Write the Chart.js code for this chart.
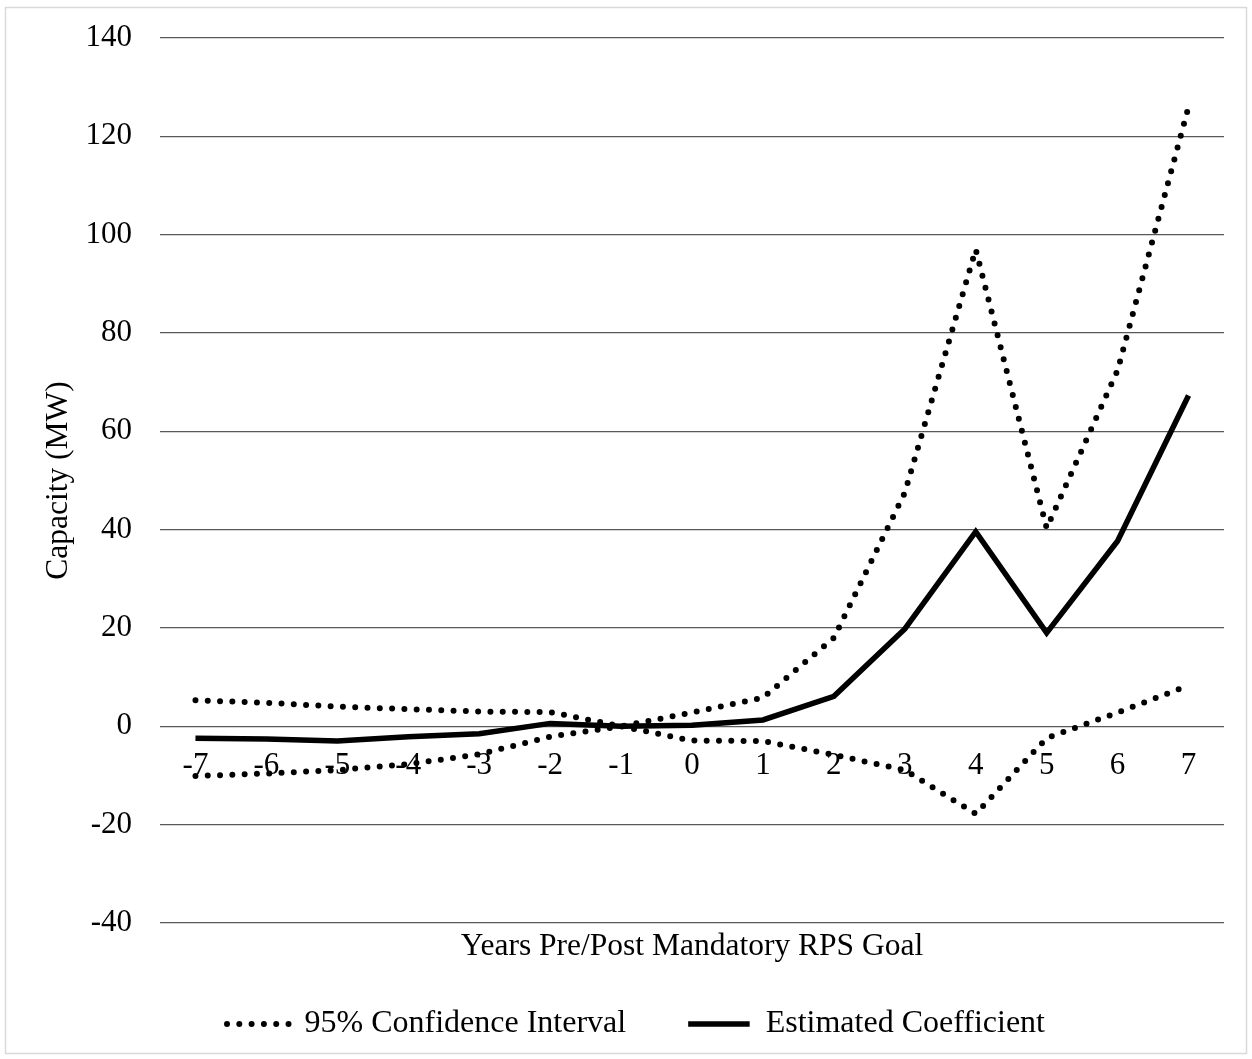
<!DOCTYPE html>
<html>
<head>
<meta charset="utf-8">
<script src="https://cdn.jsdelivr.net/npm/chart.js@4/dist/chart.umd.min.js"></script>
<style>
  html, body { margin: 0; padding: 0; background: #ffffff; }
  #wrap { width: 1252px; height: 1059px; }
</style>
</head>
<body>
<div id="wrap"><canvas id="chart" width="1252" height="1059"></canvas></div>
<script>
// Years relative to the mandatory RPS goal year
const years = ['-7', '-6', '-5', '-4', '-3', '-2', '-1', '0', '1', '2', '3', '4', '5', '6', '7'];

// Estimated coefficient (MW); year -1 is the reference year
const coefficient = [-2.4, -2.6, -3.0, -2.1, -1.5, 0.6, 0, 0.2, 1.3, 6.1, 19.8, 39.6, 19.0, 37.7, 67.3];

// Bounds of the 95% confidence interval (MW)
const ciUpper = [5.3, 4.8, 4.0, 3.5, 3.0, 2.9, 0, 2.8, 5.8, 18.0, 47.5, 97.0, 40.3, 72.4, 126.0];
const ciLower = [-10.1, -9.6, -8.9, -7.7, -5.7, -2.1, 0, -2.9, -3.0, -5.8, -8.9, -17.8, -2.4, 2.8, 8.3];

// Value axis range
const yMin = -40;
const yMax = 140;
const yStep = 20;

const serif = "'Liberation Serif', 'Times New Roman', Times, serif";
Chart.defaults.font.family = serif;
Chart.defaults.color = '#000000';

// Light frame around the whole figure
const framePlugin = {
  id: 'frame',
  beforeDraw(chart) {
    const ctx = chart.ctx;
    ctx.save();
    ctx.fillStyle = '#ffffff';
    ctx.fillRect(0, 0, chart.width, chart.height);
    ctx.strokeStyle = '#d9d9d9';
    ctx.lineWidth = 1.5;
    ctx.strokeRect(5.5, 7.5, chart.width - 11, chart.height - 13);
    ctx.restore();
  }
};

const dotted = {
  borderColor: '#000000',
  backgroundColor: '#000000',
  borderWidth: 6,
  borderDash: [0, 12.3],
  borderCapStyle: 'round',
  borderJoinStyle: 'round',
  pointRadius: 0,
  pointHoverRadius: 0,
  tension: 0,
  fill: false
};

new Chart(document.getElementById('chart'), {
  type: 'line',
  data: {
    labels: years,
    datasets: [
      Object.assign({ label: '95% Confidence Interval', data: ciUpper }, dotted),
      Object.assign({ label: '95% Confidence Interval', data: ciLower }, dotted),
      {
        label: 'Estimated Coefficient',
        data: coefficient,
        borderColor: '#000000',
        backgroundColor: '#000000',
        borderWidth: 5.5,
        borderCapStyle: 'butt',
        borderJoinStyle: 'miter',
        pointRadius: 0,
        pointHoverRadius: 0,
        tension: 0,
        fill: false
      }
    ]
  },
  options: {
    responsive: false,
    animation: false,
    devicePixelRatio: 1,
    layout: { padding: { top: 38, right: 28, bottom: 9, left: 48 } },
    plugins: {
      tooltip: { enabled: false },
      legend: {
        position: 'bottom',
        align: 'center',
        title: { display: true, text: '', padding: 0, font: { size: 23, lineHeight: 1 } },
        labels: {
          // flat boxes of zero height are stroked as line samples
          boxWidth: 61.5,
          boxHeight: 0,
          padding: 62,
          color: '#000000',
          font: { size: 32, family: serif },
          filter: (item) => item.datasetIndex !== 1
        }
      }
    },
    scales: {
      x: {
        type: 'category',
        position: { y: 0 },
        offset: true,
        grid: { display: false, drawTicks: false },
        border: { display: false },
        ticks: { color: '#000000', font: { size: 31 }, padding: 21, maxRotation: 0, autoSkip: false },
        title: {
          display: true,
          text: 'Years Pre/Post Mandatory RPS Goal',
          color: '#000000',
          font: { size: 31.5 },
          padding: { top: 122, bottom: 0 }
        }
      },
      y: {
        min: yMin,
        max: yMax,
        ticks: { stepSize: yStep, color: '#000000', font: { size: 31, lineHeight: 0.6 }, padding: 28 },
        grid: { color: '#595959', lineWidth: 1.2, drawTicks: false },
        border: { display: false },
        title: {
          display: true,
          text: 'Capacity (MW)',
          color: '#000000',
          font: { size: 31.5, lineHeight: 0.5 },
          padding: { top: 3, bottom: 0 }
        },
        afterFit(scale) { scale.width = 112; }
      }
    }
  },
  plugins: [framePlugin]
});
</script>
</body>
</html>
